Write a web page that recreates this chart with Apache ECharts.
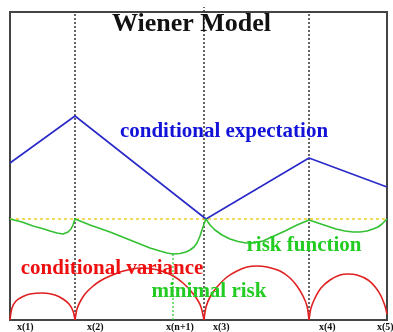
<!DOCTYPE html>
<html><head><meta charset="utf-8">
<script src="https://cdn.jsdelivr.net/npm/echarts@6/dist/echarts.min.js"></script>
<style>html,body{margin:0;padding:0;background:#fff}#c{width:393px;height:332px}</style>
</head><body><div id="c"></div>
<script>
// units: x 0..377 (x(1)..x(5)), y 0..308
const knotX = [65, 194, 299];            // x(2), x(3), x(4)
const minRiskX = 163;                    // x(n+1)
const minRiskY = 66;
const thresholdY = 101;

const expectation = [[0,157],[65,204],[196,101],[299,162],[377,133]];

const risk = [[0,101],[12,98],[23,94],[34,91],[40,89],[47,87],[53,86],[58,88],[61,91],[63,95],[65,101],
  [80,95],[100,88],[120,80],[140,72],[150,69],[157,67],[163,66],[170,66.5],[176,68],[180,70],[184,73],
  [187,77],[190,84],[192,90],[194,96],[196,101],[200,95],[205,90],[212,85],[220,81],[228,78.5],[236,77],
  [245,77.5],[253,79],[264,84],[275,89],[287,95],[299,100],[308,97],[317,94],[326,91],[335,89],[343,88],
  [350,88],[357,89],[363,91],[368,93],[372,96],[377,101]];

const varArc1 = [[0,0],[2,12],[6,19],[12,23],[20,26],[33,27],[45,25],[53,21],[59,16],[63,9],[65,0]];
const varArc2 = [[65,0],[67,11],[70,18],[75,26],[82,33],[90,39],[100,44],[110,48],[120,50.5],[130,52],
  [140,51.5],[153,48.5],[165,43],[173,37],[180,30],[187,21],[191,13],[194,0]];
const varArc3 = [[194,0],[196,13],[200,23],[207,33],[217,43],[227,49],[237,53],[247,54],[257,53],
  [270,49],[280,42],[287,34],[293,24],[297,14],[299,0]];
const varArc4 = [[299,0],[301,12],[305,22],[311,32],[320,40],[330,45],[338,46],[347,45],[358,40],
  [366,32],[371,24],[375,14],[377,6]];

const tickNames = ['x(1)','x(2)','x(n+1)','x(3)','x(4)','x(5)'];
const tickPos = [7, 77, 156, 203, 309, 367];

const annTexts = ['conditional expectation','risk function','conditional variance','minimal risk'];
const annPos = [[214,188],[294,74],[102,51],[199,28]];
const annColors = ['#1212d8','#22cc22','#ee1010','#22cc22'];

const chart = echarts.init(document.getElementById('c'));
const serif = '"Liberation Serif","Times New Roman",serif';
const dotted = {color:'#333', width:1.5, type:[2,2]};

const series = [];
knotX.forEach((x,i)=>{
  series.push({type:'line', data:[[x,0],[x, i===1 ? 313 : 308]], symbol:'none', clip:false,
    lineStyle:dotted, z:1, silent:true});
});
series.push({type:'line', data:[[0,thresholdY],[377,thresholdY]], symbol:'none',
  lineStyle:{color:'#f0d020', width:1.5, type:[3,3]}, z:2});
series.push({type:'line', data:[[minRiskX,0],[minRiskX,minRiskY]], symbol:'none',
  lineStyle:{color:'#33cc33', width:1.3, type:[2,2]}, z:2});
series.push({type:'line', data:expectation, symbol:'none', lineStyle:{color:'#2a2ac8', width:1.6}, z:3});
series.push({type:'line', data:risk, symbol:'none', smooth:false, lineStyle:{color:'#33c033', width:1.6}, z:3});
[varArc1,varArc2,varArc3,varArc4].forEach(a=>{
  series.push({type:'line', data:a, symbol:'none', smooth:0.3, lineStyle:{color:'#e02020', width:1.6}, z:3});
});
series.push({type:'scatter', symbolSize:0, clip:false, z:5, itemStyle:{opacity:1},
  data: tickPos.map((x,i)=>({value:[x,0], name:tickNames[i]})),
  label:{show:true, formatter:p=>p.name, position:[0,2], align:'left', verticalAlign:'top',
    fontFamily:serif, fontWeight:'bold', fontSize:10, color:'#111'}});
series.push({type:'scatter', symbolSize:0, clip:false, z:6, itemStyle:{opacity:1},
  data: annPos.map((p,i)=>({value:p, name:annTexts[i],
    label:{color:annColors[i]}})),
  label:{show:true, formatter:p=>p.name, position:'inside', align:'center', verticalAlign:'middle',
    fontFamily:serif, fontWeight:'bold', fontSize:21}});

chart.setOption({
  animation:false,
  grid:{left:10, right:6, top:12, bottom:12, show:true, borderColor:'#444', borderWidth:2, backgroundColor:'#fff'},
  xAxis:{type:'value', min:0, max:377, show:false},
  yAxis:{type:'value', min:0, max:308, show:false},
  graphic:[{type:'text', left:112, top:11, z:10,
    style:{text:'Wiener Model', font:'bold 26px '+serif, fill:'#111'}}],
  series
});
</script></body></html>
